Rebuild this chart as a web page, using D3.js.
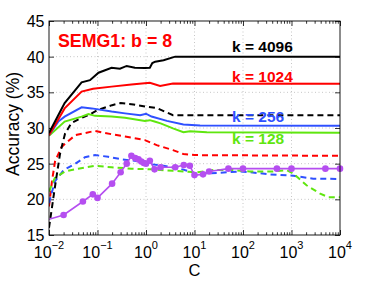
<!DOCTYPE html>
<html><head><meta charset="utf-8">
<script src="https://cdn.jsdelivr.net/npm/d3@7"></script>
<style>body{margin:0;background:#fff}svg{display:block}text{font-family:"Liberation Sans",Arial,sans-serif}</style>
</head><body>
<svg id="chart" width="374" height="281"></svg>
<script>
// ---- data ----
const xMajor = [0.01, 0.1, 1, 10, 100, 1000, 10000];
const xExp = ["\u22122", "\u22121", "0", "1", "2", "3", "4"];
const yTicks = [15, 20, 25, 30, 35, 40, 45];

const k4096C = [0.01,0.021,0.047,0.07,0.105,0.195,0.29,0.4,0.59,0.95,1.2,1.35,1.55,2.3,4.0,10000];
const k4096A = [29.3,33.5,36.4,36.7,37.75,38.45,38.3,38.7,38.45,38.4,38.45,39.1,39.3,39.5,40.0,40.0];
const k1024C = [0.01,0.021,0.047,0.081,0.195,0.5,1.2,1.95,3.6,10000];
const k1024A = [29.0,32.75,35.1,35.5,35.8,36.1,36.35,35.9,36.25,36.2];
const k256C = [0.01,0.0155,0.021,0.047,0.076,0.195,0.37,0.76,1.0,1.3,2.7,5.9,13,10000];
const k256A = [29.0,30.9,31.6,32.9,32.75,32.3,32.05,31.8,32.0,31.6,31.0,30.5,30.35,30.3];
const k128C = [0.01,0.021,0.047,0.065,0.089,0.195,0.37,0.95,1.2,1.5,2.0,3.6,5.9,8.1,18,10000];
const k128A = [28.9,30.9,31.6,31.95,31.7,31.6,31.45,31.0,31.1,30.9,30.65,29.95,29.4,29.55,29.4,29.35];

const d4096C = [0.01,0.0133,0.0169,0.0214,0.029,0.05,0.07,0.1,0.2,0.3,0.55,1.0,1.66,3.6,10000];
const d4096A = [16.0,21.8,26.4,29.2,30.7,31.5,31.9,32.5,33.2,33.5,33.3,33.0,32.8,31.8,31.8];
const d1024C = [0.01,0.0115,0.0133,0.018,0.0214,0.035,0.089,0.14,0.37,0.95,1.66,3.6,5.9,10,10000];
const d1024A = [19.0,22.5,25.3,27.3,27.8,29.0,29.6,29.3,28.8,28.3,27.6,26.9,26.35,26.2,26.1];
const d256C = [0.01,0.0132,0.02,0.035,0.055,0.089,0.166,0.32,0.81,0.89,1.95,5,11.2,29,87,138,363,1100,2800,10000];
const d256A = [19.5,22.5,24.1,25.0,25.9,26.2,25.97,25.6,25.3,25.0,24.8,24.3,23.6,23.7,23.9,23.8,23.5,23.3,22.9,22.85];
const d128C = [0.01,0.0132,0.0214,0.04,0.089,0.195,0.5,1.3,3.6,11.2,24.5,63,138,417,800,1100,2040,3900,5750,10000];
const d128A = [21.1,23.0,23.9,24.3,24.7,24.5,24.3,24.2,24.0,23.8,24.1,24.1,23.9,23.9,24.1,23.6,21.97,20.8,20.3,20.3];

const baseC = [0.01,0.02,0.05,0.08,0.1,0.2,0.3,0.4,0.5,0.6,0.7,0.8,0.9,1,1.2,1.5,2,4,6,8,10,15,20,50,100,500,1000,5000,10000];
const baseA = [17.2,17.8,19.7,20.7,20.2,22.2,23.8,25.0,26.1,25.8,25.6,25.3,25.1,25.0,25.4,24.2,24.5,24.5,24.8,24.7,23.4,23.5,23.9,24.3,24.3,24.3,24.3,24.3,24.3];

const seriesNames = ["k = 4096", "k = 1024", "k = 256", "k = 128"];
const titleText = "SEMG1: b = 8";

// ---- chart ----
const BLACK="#000000", RED="#ff0000", BLUE="#2f50ff", GREEN="#5fe60f", PURPLE="#b54ef0";
const svg = d3.select("#chart");
const L=49, R=340, T=21, B=235;
const x = d3.scaleLog().domain([0.01,10000]).range([L,R]);
const y = d3.scaleLinear().domain([15,45]).range([B,T]);

svg.append("defs").append("clipPath").attr("id","clip")
  .append("rect").attr("x",L).attr("y",T).attr("width",R-L).attr("height",B-T);

// grid
const grid = svg.append("g").attr("stroke","#b8b8b8").attr("stroke-width",0.8).attr("stroke-dasharray","1,2.5");
grid.selectAll(".gx").data(xMajor.slice(1,-1)).join("line")
  .attr("x1",d=>x(d)).attr("x2",d=>x(d)).attr("y1",T).attr("y2",B);
grid.selectAll(".gy").data(yTicks.slice(1,-1)).join("line")
  .attr("x1",L).attr("x2",R).attr("y1",d=>y(d)).attr("y2",d=>y(d));

// axes ticks via d3 axes
const minor = [];
for (let e=-2;e<4;e++) for (let m=2;m<10;m++) minor.push(m*Math.pow(10,e));
const allX = xMajor.concat(minor);
function styleAxis(g, isMajor, len, dir){
  g.select(".domain").remove();
  g.selectAll("text").remove();
  g.selectAll(".tick line").attr("stroke","#000").attr("stroke-width",0.8)
   .each(function(d){ d3.select(this).attr(dir, (isMajor(d)?len:len*0.55)); });
}
const isMaj = d => xMajor.includes(d);
svg.append("g").attr("transform",`translate(0,${B})`)
  .call(d3.axisBottom(x).tickValues(allX).tickSize(-5))
  .call(g=>styleAxis(g,isMaj,-5,"y2"));
svg.append("g").attr("transform",`translate(0,${T})`)
  .call(d3.axisTop(x).tickValues(allX).tickSize(-5))
  .call(g=>styleAxis(g,isMaj,5,"y2"));
svg.append("g").attr("transform",`translate(${L},0)`)
  .call(d3.axisLeft(y).tickValues(yTicks).tickSize(-5))
  .call(g=>styleAxis(g,()=>true,5,"x2"));
svg.append("g").attr("transform",`translate(${R},0)`)
  .call(d3.axisRight(y).tickValues(yTicks).tickSize(-5))
  .call(g=>styleAxis(g,()=>true,-5,"x2"));

// data lines
const line = d3.line().x(d=>x(d[0])).y(d=>y(d[1]));
const plot = svg.append("g").attr("clip-path","url(#clip)").attr("fill","none");
const zip = (c,a)=>c.map((v,i)=>[v,a[i]]);
const dashed = [[d1024C,d1024A,RED],[d256C,d256A,BLUE],[d128C,d128A,GREEN],[d4096C,d4096A,BLACK]];
dashed.forEach(([c,a,col])=>{
  plot.append("path").datum(zip(c,a)).attr("d",line).attr("stroke",col)
    .attr("stroke-width",2).attr("stroke-dasharray","6,4");
});
const solid = [[k128C,k128A,GREEN],[k256C,k256A,BLUE],[k1024C,k1024A,RED],[k4096C,k4096A,BLACK]];
solid.forEach(([c,a,col])=>{
  plot.append("path").datum(zip(c,a)).attr("d",line).attr("stroke",col).attr("stroke-width",2);
});
const base = zip(baseC,baseA);
plot.append("path").datum(base).attr("d",line).attr("stroke",PURPLE).attr("stroke-width",1.6);
svg.append("g").attr("fill",PURPLE).selectAll("circle").data(base.slice(1)).join("circle")
  .attr("cx",d=>x(d[0])).attr("cy",d=>y(d[1])).attr("r",3.3);

// box
svg.append("rect").attr("x",L).attr("y",T).attr("width",R-L).attr("height",B-T)
  .attr("fill","none").attr("stroke","#000").attr("stroke-width",0.9);

// tick labels
const yl = svg.append("g").attr("font-size",16).attr("text-anchor","end");
yl.selectAll("text").data(yTicks).join("text")
  .attr("x",L-4.5).attr("y",d=>y(d)+6).text(d=>d);
const xl = svg.append("g").attr("font-size",16).attr("text-anchor","middle");
xMajor.forEach((v,i)=>{
  const t = xl.append("text").attr("x",x(v)).attr("y",258);
  t.append("tspan").text("10");
  t.append("tspan").attr("font-size",11).attr("dy",-9).text(xExp[i]);
});
svg.append("text").attr("x",(L+R)/2).attr("y",276).attr("font-size",16.5).attr("text-anchor","middle").text("C");
svg.append("text").attr("transform","translate(19,124) rotate(-90)").attr("font-size",17.5)
  .attr("text-anchor","middle").text("Accuracy (%)");

// annotations
svg.append("text").attr("x",58).attr("y",47).attr("font-size",17.8).attr("font-weight","bold")
  .attr("fill",RED).text(titleText);
const labY = [52, 82, 122, 144];
const labCol = [BLACK, RED, BLUE, GREEN];
svg.append("g").attr("font-size",15.5).attr("font-weight","bold").selectAll("text")
  .data(seriesNames).join("text")
  .attr("x",232).attr("y",(d,i)=>labY[i]).attr("fill",(d,i)=>labCol[i]).text(d=>d);
</script>
</body></html>
